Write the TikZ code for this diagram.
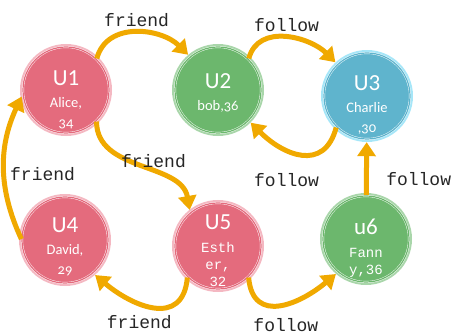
\documentclass[tikz,border=0pt]{standalone}
\usepackage{fontspec}
\setmainfont{Carlito}
\newfontfamily\oldfig{Carlito}[Numbers=OldStyle]
\setmonofont{Liberation Mono}
\usetikzlibrary{arrows.meta}

\definecolor{upink}{HTML}{E46B7D}
\definecolor{upinkhalo}{HTML}{F4B8C2}
\definecolor{ugreen}{HTML}{6CB76D}
\definecolor{ugreenhalo}{HTML}{A9D6AA}
\definecolor{ublue}{HTML}{5FB4CD}
\definecolor{ubluehalo}{HTML}{A6E6F8}
\definecolor{edgec}{HTML}{F0A900}

\tikzset{user/.style 2 args={circle, minimum size=86pt, inner sep=0pt, fill=#1,
  preaction={draw=#2, line width=6pt},
  postaction={draw=white, line width=0.4pt, double=#1, double distance=1.2pt}},
%sans and mono text inside the circles
utext/.style={text=white, align=center, inner sep=0pt, anchor=north,
  font=\oldfig\fontsize{14.5}{20}\selectfont},
utextmono/.style={utext, font=\ttfamily\fontsize{14}{17}\selectfont},
flow/.style={draw=edgec, line width=5pt, -{Triangle[length=14pt,width=18pt]},
  shorten >=3pt, shorten <=1pt},
lab/.style={font=\ttfamily\fontsize{18}{18}\selectfont, text=black!85}}
\newcommand{\uname}[1]{{\rmfamily\fontsize{23}{20}\selectfont #1}}

\begin{document}
\begin{tikzpicture}[x=1pt, y=1pt]
\useasboundingbox (0,0) rectangle (451,335);

\node[user={upink}{upinkhalo}]   (u1) at (66,245) {};
\node[user={ugreen}{ugreenhalo}] (u2) at (218,245) {};
\node[user={ublue}{ubluehalo}]   (u3) at (367,239) {};
\node[user={upink}{upinkhalo}]   (u4) at (65,95) {};
\node[user={upink}{upinkhalo}]   (u5) at (218,89) {};
\node[user={ugreen}{ugreenhalo}] (u6) at (366,96) {};

\node[utext] (u1txt) at ([yshift=19pt]u1.center) {\uname{U1}\\[2pt] Alice,\\ 34};
\node[utext] (u2txt) at ([yshift=17pt]u2.center) {\uname{U2}\\[2pt] bob,36};
\node[utext] (u3txt) at ([yshift=21pt]u3.center) {\uname{U3}\\[2pt] Charlie\\ ,30};
\node[utext] (u4txt) at ([yshift=22pt]u4.center) {\uname{U4}\\[2pt] David,\\ 29};
\node[utextmono] (u5txt) at ([yshift=31pt]u5.center) {\uname{U5}\\[6pt] Esth\\ er,\\ 32};
\node[utextmono] (u6txt) at ([yshift=20pt]u6.center) {\uname{u6}\\[6pt] Fann\\ y,36};

\draw[flow] (u1.45) to[out=75,in=135,looseness=1.1] node[lab, above] (f12) {friend} (u2.130);
\draw[flow] (u2.45) to[out=75,in=135,looseness=1.1] node[lab, above] (f23) {follow} (u3.133);
\draw[flow] (u3.225) to[out=-105,in=-45,looseness=1.4] node[lab, below=14pt, xshift=-14pt] (f32) {follow} (u2.-45);
\draw[flow] (u1.-45) to[out=-90,in=100] node[lab, above, pos=0.6] (f15) {friend} (u5.130);
\draw[flow] (u4.180) to[out=115,in=245] node[lab, right, pos=0.45] (f41) {friend} (u1.185);
\draw[flow] (u5.225) to[out=-95,in=-40,looseness=1.4] node[lab, below=3pt, xshift=-14pt] (f54) {friend} (u4.-50);
\draw[flow] (u5.-45) to[out=-85,in=-140,looseness=1.4] node[lab, below=8pt, xshift=5pt] (f56) {follow} (u6.230);
\draw[flow] (u6) -- node[lab, pos=0.3, right=14pt] (f63) {follow} (u3);

\end{tikzpicture}
\end{document}
